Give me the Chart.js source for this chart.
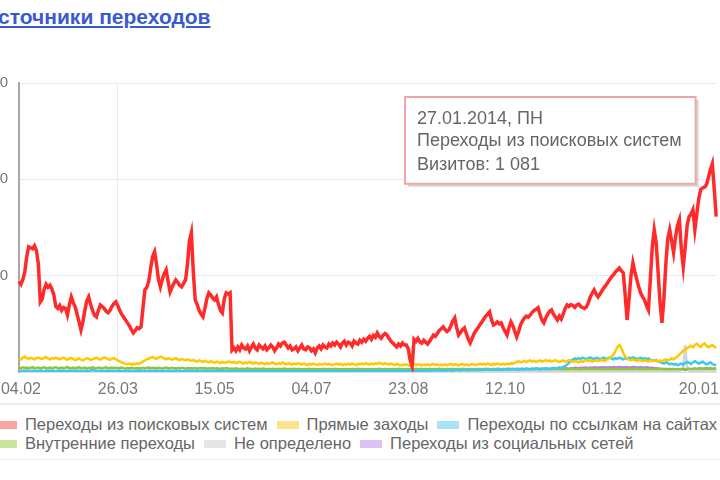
<!DOCTYPE html>
<html>
<head>
<meta charset="utf-8">
<script src="https://cdn.jsdelivr.net/npm/chart.js@4.4.1/dist/chart.umd.min.js"></script>
<style>
    html, body { margin: 0; padding: 0; background: #fff; }
    body { width: 720px; height: 480px; overflow: hidden; position: relative; font-family: Arial, "Liberation Sans", sans-serif; }
    #reportTitle { position: absolute; top: 5px; left: -17px; font-size: 21px; font-weight: bold; white-space: nowrap; }
    #reportTitle a { color: #3a5bd0; text-decoration: underline; }
    #chartWrap { position: absolute; top: 63px; left: -41px; }
    #legend { position: absolute; left: -5px; top: 403px; width: 740px; height: 54px; border-top: 2px solid #ececec; border-bottom: 1px solid #eeeeee; color: #666; font-size: 16.5px; }
    .legendRow { display: flex; align-items: center; height: 19px; white-space: nowrap; }
    .legendRow:first-child { margin-top: 10px; }
    .legendItem { display: flex; align-items: center; margin-right: 9px; }
    .legendSwatch { display: inline-block; width: 22px; height: 8px; margin-right: 8px; }
</style>
</head>
<body>
<div id="reportTitle"><a href="#">Источники переходов</a></div>
<div id="chartWrap"><canvas id="trafficChart" width="768" height="337"></canvas></div>
<div id="legend"></div>

<script>
// daily data, 03.02.2013 - 29.01.2014
const startDate = new Date(2013, 1, 3);
const dayCount = 361;
const weekdayNames = ['ВС', 'ПН', 'ВТ', 'СР', 'ЧТ', 'ПТ', 'СБ'];

const tickDates = ['04.02.2013', '26.03.2013', '15.05.2013', '04.07.2013', '23.08.2013', '12.10.2013', '01.12.2013', '20.01.2014'];
const weekendTicks = ['12.10.2013', '01.12.2013'];

const seriesNames = ['Переходы из поисковых систем', 'Прямые заходы', 'Переходы по ссылкам на сайтах', 'Внутренние переходы', 'Не определено', 'Переходы из социальных сетей'];
const seriesColors = ['#ff2a2a', '#ffc800', '#3cc8f0', '#8cc63f', '#d6d6d6', '#b57ee0'];
const swatchColors = ['#f9a3a3', '#fde28e', '#a9e3f6', '#c8e69e', '#e6e6e6', '#dcc2f2'];

const searchVisits = [
    470, 455, 480, 520, 600, 650, 645, 640, 655, 630,
    560, 364, 380, 430, 455, 440, 450, 430, 400, 340,
    330, 345, 320, 335, 330, 296, 350, 390, 360, 338,
    300, 260, 218, 260, 320, 370, 390, 350, 320, 295,
    286, 320, 348, 340, 330, 315, 307, 320, 340, 355,
    364, 345, 320, 300, 285, 270, 255, 240, 220, 203,
    215, 230, 225, 234, 330, 426, 440, 470, 540, 600,
    624, 560, 480, 442, 480, 510, 530, 470, 416, 440,
    460, 478, 465, 450, 442, 460, 478, 560, 680, 723,
    520, 374, 350, 320, 300, 286, 330, 380, 411, 400,
    385, 374, 390, 350, 320, 307, 380, 411, 405, 411,
    114, 125, 110, 130, 115, 140, 125, 120, 135, 110,
    130, 145, 125, 115, 140, 130, 120, 135, 115, 125,
    140, 130, 110, 125, 145, 135, 150, 155, 140, 125,
    135, 115, 120, 130, 110, 125, 140, 120, 115, 130,
    125, 110, 120, 99, 125, 135, 120, 140, 130, 125,
    145, 135, 150, 140, 155, 145, 130, 150, 160, 140,
    155, 150, 135, 160, 150, 145, 165, 155, 170, 160,
    175, 185, 170, 190, 180, 203, 185, 175, 190, 200,
    192, 175, 160, 150, 140, 130, 145, 135, 150, 140,
    140, 120, 60, 30, 170, 160, 175, 156, 150, 165,
    155, 145, 160, 175, 192, 185, 200, 215, 225, 234,
    220, 210, 218, 240, 265, 281, 230, 192, 205, 220,
    229, 200, 170, 151, 175, 200, 215, 229, 245, 260,
    275, 290, 300, 312, 270, 244, 250, 260, 250, 255,
    230, 210, 192, 230, 260, 240, 210, 182, 210, 245,
    265, 281, 290, 285, 296, 310, 320, 325, 333, 300,
    270, 255, 280, 300, 315, 322, 300, 285, 270, 290,
    275, 300, 330, 348, 340, 350, 345, 335, 348, 352,
    340, 335, 330, 338, 360, 390, 410, 426, 405, 390,
    405, 420, 437, 450, 465, 480, 494, 505, 520, 530,
    540, 525, 515, 400, 270, 380, 500, 567, 520, 480,
    442, 410, 390, 374, 345, 322, 480, 650, 738, 671,
    520, 360, 255, 380, 560, 690, 738, 680, 619, 700,
    760, 790, 640, 546, 650, 760, 806, 820, 842, 738,
    820, 900, 946, 955, 960, 972, 1010, 1050, 1081, 950,
    806
];

const directVisits = [
    70, 65, 75, 80, 72, 68, 74, 70, 66, 72,
    75, 70, 68, 73, 78, 70, 65, 72, 69, 74,
    70, 66, 71, 75, 68, 64, 70, 73, 67, 62,
    66, 70, 64, 60, 66, 72, 68, 63, 67, 70,
    74, 68, 64, 70, 76, 72, 67, 63, 69, 72,
    66, 60, 55, 50, 46, 42, 40, 44, 38, 42,
    40, 45, 42, 48, 55, 60, 66, 70, 74, 78,
    72, 68, 74, 80, 76, 70, 66, 72, 68, 64,
    68, 72, 66, 62, 68, 64, 60, 66, 62, 58,
    62, 58, 54, 60, 56, 52, 58, 54, 50, 56,
    52, 48, 54, 50, 46, 52, 48, 50, 54, 52,
    48, 52, 46, 50, 54, 48, 44, 50, 46, 52,
    48, 44, 50, 46, 42, 48, 44, 40, 46, 42,
    46, 50, 44, 40, 46, 42, 48, 44, 40, 46,
    42, 38, 44, 40, 46, 42, 38, 44, 40, 36,
    42, 38, 44, 40, 36, 42, 38, 40, 44, 38,
    42, 38, 36, 40, 44, 38, 42, 36, 40, 38,
    42, 38, 44, 40, 36, 42, 38, 44, 40, 46,
    42, 38, 44, 40, 46, 42, 48, 44, 40, 46,
    42, 38, 44, 40, 36, 42, 38, 34, 40, 36,
    40, 36, 32, 38, 42, 36, 40, 38, 34, 38,
    36, 40, 34, 38, 42, 36, 40, 34, 38, 36,
    40, 34, 38, 42, 36, 40, 38, 34, 38, 42,
    36, 40, 34, 38, 42, 38, 36, 40, 44, 38,
    42, 38, 44, 40, 36, 42, 38, 44, 40, 38,
    42, 38, 44, 40, 46, 42, 48, 52, 56, 50,
    54, 58, 52, 56, 60, 54, 58, 52, 56, 60,
    54, 58, 62, 56, 60, 54, 58, 62, 56, 52,
    56, 60, 54, 58, 62, 56, 52, 58, 54, 50,
    56, 52, 58, 62, 56, 60, 54, 58, 62, 56,
    60, 64, 58, 62, 68, 74, 80, 90, 110, 130,
    140, 125, 100, 80, 70, 64, 60, 66, 62, 58,
    64, 60, 56, 62, 58, 54, 60, 56, 62, 58,
    54, 60, 56, 62, 66, 60, 64, 70, 66, 74,
    80, 90, 100, 110, 118, 124, 130, 136, 128, 140,
    146, 138, 130, 142, 148, 136, 128, 134, 140, 132,
    125
];

const linkVisits = [
    4, 6, 3, 5, 8, 4, 3, 6, 5, 4,
    5, 7, 4, 3, 6, 5, 4, 8, 5, 3,
    6, 4, 5, 7, 3, 5, 6, 4, 8, 5,
    4, 6, 5, 3, 7, 5, 4, 6, 12, 8,
    5, 4, 6, 5, 3, 7, 4, 5, 6, 4,
    5, 3, 6, 4, 5, 7, 4, 6, 3, 5,
    4, 6, 5, 7, 4, 5, 3, 6, 5, 4,
    6, 4, 5, 3, 7, 5, 4, 6, 5, 4,
    5, 7, 4, 6, 3, 5, 4, 6, 5, 7,
    4, 5, 6, 3, 5, 4, 7, 5, 4, 6,
    5, 4, 6, 5, 3, 7, 4, 5, 6, 4,
    3, 5, 4, 6, 5, 3, 4, 6, 5, 4,
    5, 3, 6, 4, 5, 4, 6, 3, 5, 4,
    6, 5, 4, 3, 5, 6, 4, 5, 3, 6,
    4, 5, 6, 4, 3, 5, 4, 6, 5, 4,
    5, 4, 6, 3, 5, 4, 6, 5, 4, 7,
    5, 4, 6, 5, 3, 5, 4, 6, 5, 4,
    6, 5, 4, 7, 5, 6, 4, 5, 8, 6,
    5, 7, 6, 4, 8, 6, 5, 7, 6, 5,
    7, 6, 5, 8, 6, 7, 5, 6, 8, 7,
    6, 8, 7, 5, 9, 7, 6, 8, 7, 6,
    8, 7, 9, 6, 8, 10, 7, 9, 8, 7,
    9, 8, 10, 7, 9, 8, 11, 9, 8, 10,
    9, 11, 8, 10, 12, 9, 11, 10, 12, 9,
    11, 13, 10, 12, 14, 11, 13, 12, 10, 14,
    12, 15, 13, 11, 14, 16, 13, 15, 12, 14,
    16, 14, 18, 15, 13, 17, 15, 19, 16, 14,
    18, 16, 20, 17, 15, 19, 22, 18, 20, 24,
    20, 26, 30, 38, 48, 58, 64, 70, 66, 72,
    68, 74, 70, 66, 72, 76, 70, 68, 74, 72,
    66, 70, 74, 68, 72, 76, 70, 66, 72, 68,
    74, 70, 66, 72, 68, 74, 70, 76, 72, 68,
    70, 74, 68, 72, 66, 70, 64, 60, 58, 62,
    56, 52, 48, 44, 50, 46, 40, 44, 38, 42,
    36, 40, 44, 38, 46, 52, 48, 42, 50, 56,
    50, 44, 48, 54, 46, 40, 44, 50, 42, 38,
    36
];

const internalVisits = [
    22, 20, 24, 21, 23, 19, 22, 25, 20, 21,
    23, 20, 22, 24, 19, 21, 23, 20, 22, 24,
    21, 19, 23, 20, 22, 25, 21, 20, 23, 19,
    22, 24, 20, 21, 23, 19, 22, 20, 24, 21,
    20, 23, 21, 19, 22, 24, 20, 21, 23, 20,
    22, 19, 21, 23, 20, 18, 21, 19, 22, 20,
    18, 21, 19, 20, 22, 19, 21, 23, 20, 22,
    21, 19, 22, 20, 18, 21, 23, 20, 19, 22,
    20, 18, 21, 19, 22, 20, 18, 21, 19, 20,
    18, 20, 17, 19, 21, 18, 20, 17, 19, 18,
    20, 17, 19, 18, 16, 19, 17, 20, 18, 16,
    18, 16, 19, 17, 15, 18, 16, 17, 19, 16,
    17, 15, 18, 16, 17, 15, 18, 16, 14, 17,
    15, 17, 16, 14, 17, 15, 16, 18, 15, 14,
    16, 15, 17, 14, 16, 15, 13, 16, 14, 15,
    17, 14, 16, 15, 13, 16, 14, 17, 15, 14,
    16, 14, 15, 17, 14, 16, 13, 15, 14, 16,
    15, 13, 16, 14, 15, 17, 14, 16, 15, 13,
    16, 14, 15, 13, 16, 14, 17, 15, 14, 16,
    14, 15, 13, 16, 14, 15, 17, 14, 16, 13,
    15, 14, 16, 13, 15, 17, 14, 16, 15, 13,
    16, 14, 15, 13, 16, 14, 15, 17, 14, 16,
    13, 15, 14, 16, 15, 13, 16, 14, 15, 17,
    14, 16, 13, 15, 14, 16, 15, 13, 16, 14,
    15, 17, 14, 16, 13, 15, 14, 16, 15, 13,
    16, 14, 15, 17, 14, 16, 13, 15, 14, 16,
    15, 13, 16, 14, 15, 17, 14, 16, 15, 13,
    16, 14, 15, 13, 16, 14, 17, 15, 14, 16,
    14, 15, 13, 16, 14, 15, 17, 14, 16, 13,
    15, 14, 16, 13, 15, 17, 14, 16, 15, 13,
    16, 14, 15, 13, 16, 14, 15, 17, 14, 16,
    13, 15, 14, 16, 15, 13, 16, 14, 15, 17,
    14, 16, 13, 15, 14, 16, 15, 13, 16, 14,
    15, 17, 14, 16, 13, 15, 14, 16, 15, 13,
    16, 14, 15, 17, 14, 16, 18, 15, 17, 19,
    16, 18, 20, 17, 19, 21, 18, 20, 17, 19,
    18
];

const undefinedVisits = [
    3, 2, 4, 3, 2, 3, 4, 2, 3, 3,
    2, 4, 3, 2, 3, 3, 4, 2, 3, 2,
    3, 4, 2, 3, 3, 2, 4, 3, 2, 3,
    4, 2, 3, 3, 2, 4, 3, 3, 2, 3,
    3, 2, 4, 3, 2, 3, 3, 4, 2, 3,
    2, 3, 4, 3, 2, 3, 2, 4, 3, 3,
    2, 3, 3, 4, 2, 3, 2, 3, 4, 3,
    3, 2, 4, 3, 3, 2, 3, 4, 2, 3,
    3, 4, 2, 3, 2, 3, 3, 4, 2, 3,
    2, 3, 4, 3, 3, 2, 4, 3, 2, 3,
    3, 2, 3, 4, 2, 3, 3, 2, 4, 3,
    2, 3, 3, 4, 2, 3, 2, 4, 3, 3,
    3, 2, 4, 3, 2, 3, 3, 4, 2, 3,
    4, 3, 2, 3, 3, 2, 4, 3, 3, 2,
    3, 4, 2, 3, 3, 2, 3, 4, 2, 3,
    3, 2, 4, 3, 2, 3, 4, 3, 2, 3,
    2, 3, 3, 4, 2, 3, 3, 2, 4, 3,
    3, 2, 3, 4, 3, 2, 3, 3, 4, 2,
    3, 3, 2, 4, 3, 2, 3, 4, 3, 3,
    2, 3, 4, 3, 2, 3, 3, 2, 4, 3,
    3, 4, 2, 3, 3, 2, 4, 3, 2, 3,
    3, 2, 3, 4, 3, 2, 3, 3, 4, 2,
    3, 4, 2, 3, 3, 2, 3, 4, 3, 2,
    3, 3, 4, 2, 3, 3, 2, 4, 3, 3,
    2, 3, 4, 3, 2, 3, 3, 4, 2, 3,
    3, 2, 4, 3, 3, 2, 3, 4, 3, 2,
    4, 3, 3, 2, 3, 4, 3, 2, 3, 3,
    2, 4, 3, 3, 2, 3, 4, 3, 2, 3,
    3, 2, 3, 4, 3, 3, 2, 4, 3, 3,
    4, 3, 2, 3, 3, 4, 2, 3, 3, 2,
    3, 4, 3, 2, 3, 3, 4, 2, 3, 3,
    2, 3, 4, 3, 3, 2, 4, 3, 3, 2,
    3, 4, 2, 3, 3, 4, 3, 2, 3, 4,
    3, 2, 4, 3, 3, 2, 3, 4, 3, 5,
    4, 6, 8, 30, 140, 20, 6, 5, 4, 6,
    5, 4, 6, 5, 4, 6, 5, 4, 5, 6,
    5
];

const socialVisits = [
    5, 4, 6, 5, 4, 5, 6, 4, 5, 5,
    4, 6, 5, 4, 5, 5, 6, 4, 5, 4,
    5, 6, 4, 5, 5, 4, 6, 5, 4, 5,
    6, 4, 5, 5, 4, 6, 5, 5, 4, 5,
    5, 4, 6, 5, 4, 5, 5, 6, 4, 5,
    4, 5, 6, 5, 4, 5, 4, 6, 5, 5,
    4, 5, 5, 6, 4, 5, 4, 5, 6, 5,
    5, 4, 6, 5, 5, 4, 5, 6, 4, 5,
    5, 6, 4, 5, 4, 5, 5, 6, 4, 5,
    4, 5, 6, 5, 5, 4, 6, 5, 4, 5,
    5, 4, 5, 6, 4, 5, 5, 4, 6, 5,
    4, 5, 5, 6, 4, 5, 4, 6, 5, 5,
    5, 4, 6, 5, 4, 5, 5, 6, 4, 5,
    6, 5, 4, 5, 5, 4, 6, 5, 5, 4,
    5, 6, 4, 5, 5, 4, 5, 6, 4, 5,
    5, 4, 6, 5, 4, 5, 6, 5, 4, 5,
    6, 5, 7, 6, 5, 7, 6, 8, 7, 6,
    7, 6, 8, 7, 6, 8, 7, 9, 8, 7,
    8, 7, 9, 8, 7, 9, 8, 10, 9, 8,
    9, 8, 10, 9, 8, 10, 9, 11, 10, 9,
    10, 9, 11, 10, 9, 11, 10, 12, 11, 10,
    11, 10, 12, 11, 10, 12, 11, 13, 12, 11,
    12, 11, 13, 12, 11, 13, 12, 14, 13, 12,
    13, 12, 14, 13, 12, 14, 13, 15, 14, 13,
    14, 13, 15, 14, 13, 15, 14, 16, 15, 14,
    15, 14, 16, 15, 14, 16, 15, 17, 16, 15,
    16, 15, 17, 16, 15, 17, 16, 18, 17, 16,
    17, 16, 18, 17, 16, 18, 17, 19, 18, 17,
    18, 17, 19, 18, 17, 19, 20, 22, 21, 20,
    22, 21, 23, 22, 21, 23, 22, 24, 23, 22,
    24, 23, 25, 24, 23, 25, 24, 26, 25, 24,
    26, 25, 24, 26, 25, 23, 24, 26, 25, 24,
    23, 25, 24, 22, 24, 23, 21, 22, 20, 19,
    18, 17, 16, 15, 16, 14, 15, 13, 14, 12,
    13, 12, 14, 13, 11, 12, 13, 11, 12, 13,
    12, 11, 13, 12, 11, 12, 13, 11, 12, 11,
    12
];

const seriesData = [searchVisits, directVisits, linkVisits, internalVisits, undefinedVisits, socialVisits];
const highlightedDay = '27.01.2014';

function pad2(n) {
    return (n < 10 ? '0' : '') + n;
}

function formatDate(d) {
    return `${pad2(d.getDate())}.${pad2(d.getMonth() + 1)}.${d.getFullYear()}`;
}

function formatNumber(v) {
    return String(v).replace(/\B(?=(\d{3})+(?!\d))/g, ' ');
}

var dayLabels = [];
var dayNames = [];
for (let i = 0; i < dayCount; i++) {
    let d = new Date(startDate.getFullYear(), startDate.getMonth(), startDate.getDate() + i);
    dayLabels.push(formatDate(d));
    dayNames.push(weekdayNames[d.getDay()]);
}

function isTickDay(index) {
    return tickDates.includes(dayLabels[index]);
}

// tooltip sits in a fixed spot above the plot, like the metrika hover box
Chart.Tooltip.positioners.fixedBox = function () {
    let area = this.chart.chartArea;
    return { x: area.left + 386, y: area.top + 14 };
};

const tooltipShadow = {
    id: 'tooltipShadow',
    beforeTooltipDraw(chart, args) {
        let tt = args.tooltip;
        let c = chart.ctx;
        c.save();
        c.fillStyle = 'rgba(0, 0, 0, 0.16)';
        c.fillRect(tt.x + 3, tt.y + 3, tt.width, tt.height);
        c.restore();
    }
};

const fontFamily = 'Arial, "Liberation Sans", sans-serif';

var ctx = document.getElementById('trafficChart');
var chart = new Chart(ctx, {
    type: 'line',
    data: {
        labels: dayLabels,
        datasets: seriesNames.map(function (name, i) {
            return {
                label: name,
                data: seriesData[i],
                borderColor: seriesColors[i],
                backgroundColor: seriesColors[i],
                borderWidth: i === 0 ? 3.5 : 2.5,
                pointRadius: 0,
                tension: 0,
                fill: false
            };
        })
    },
    options: {
        responsive: false,
        animation: false,
        events: [],
        layout: { padding: { top: 0, right: 9, left: 0, bottom: 0 } },
        scales: {
            x: {
                grid: {
                    drawTicks: false,
                    color: (c) => isTickDay(c.index) ? '#ececec' : 'rgba(0,0,0,0)'
                },
                border: { color: '#dddddd' },
                ticks: {
                    autoSkip: false,
                    maxRotation: 0,
                    minRotation: 0,
                    padding: 8,
                    font: { family: fontFamily, size: 16 },
                    color: (c) => weekendTicks.includes(dayLabels[c.index]) ? '#e07a7a' : '#777777',
                    callback: function (value, index) {
                        return isTickDay(index) ? dayLabels[index].slice(0, 5) : null;
                    }
                },
                afterFit: function (scale) { scale.height = 28; }
            },
            y: {
                min: 0,
                max: 1500,
                grid: { drawTicks: false, color: '#e8e8e8' },
                border: { color: '#a8a8a8', width: 2 },
                ticks: {
                    stepSize: 500,
                    padding: 11,
                    font: { family: fontFamily, size: 15 },
                    color: '#777777',
                    callback: (v) => v === 0 ? '' : formatNumber(v)
                },
                afterFit: function (scale) { scale.width = 60; }
            }
        },
        plugins: {
            legend: { display: false },
            tooltip: {
                position: 'fixedBox',
                xAlign: 'left',
                yAlign: 'top',
                backgroundColor: '#ffffff',
                borderColor: '#f3a4a4',
                borderWidth: 2,
                cornerRadius: 0,
                caretSize: 0,
                caretPadding: 0,
                displayColors: false,
                titleColor: '#666666',
                bodyColor: '#666666',
                titleFont: { family: fontFamily, size: 18, weight: 'normal', lineHeight: 1.2 },
                bodyFont: { family: fontFamily, size: 18, lineHeight: 1.2 },
                titleMarginBottom: 1,
                padding: { top: 11, left: 12, right: 14, bottom: 8 },
                filter: (item) => item.datasetIndex === 0,
                callbacks: {
                    title: (items) => `${dayLabels[items[0].dataIndex]}, ${dayNames[items[0].dataIndex]}`,
                    label: (item) => [item.dataset.label, 'Визитов: ' + formatNumber(item.raw)]
                }
            }
        }
    },
    plugins: [tooltipShadow]
});

chart.tooltip.setActiveElements([{ datasetIndex: 0, index: dayLabels.indexOf(highlightedDay) }], { x: 0, y: 0 });
chart.update();

// legend in two rows, the way metrika lays it out
function buildLegend() {
    let legend = document.getElementById('legend');
    [[0, 1, 2], [3, 4, 5]].forEach(function (row) {
        let rowDiv = document.createElement('div');
        rowDiv.className = 'legendRow';
        row.forEach(function (i) {
            let item = document.createElement('span');
            item.className = 'legendItem';
            let sw = document.createElement('span');
            sw.className = 'legendSwatch';
            sw.style.background = swatchColors[i];
            item.appendChild(sw);
            item.appendChild(document.createTextNode(seriesNames[i]));
            rowDiv.appendChild(item);
        });
        legend.appendChild(rowDiv);
    });
}
buildLegend();
</script>
</body>
</html>
